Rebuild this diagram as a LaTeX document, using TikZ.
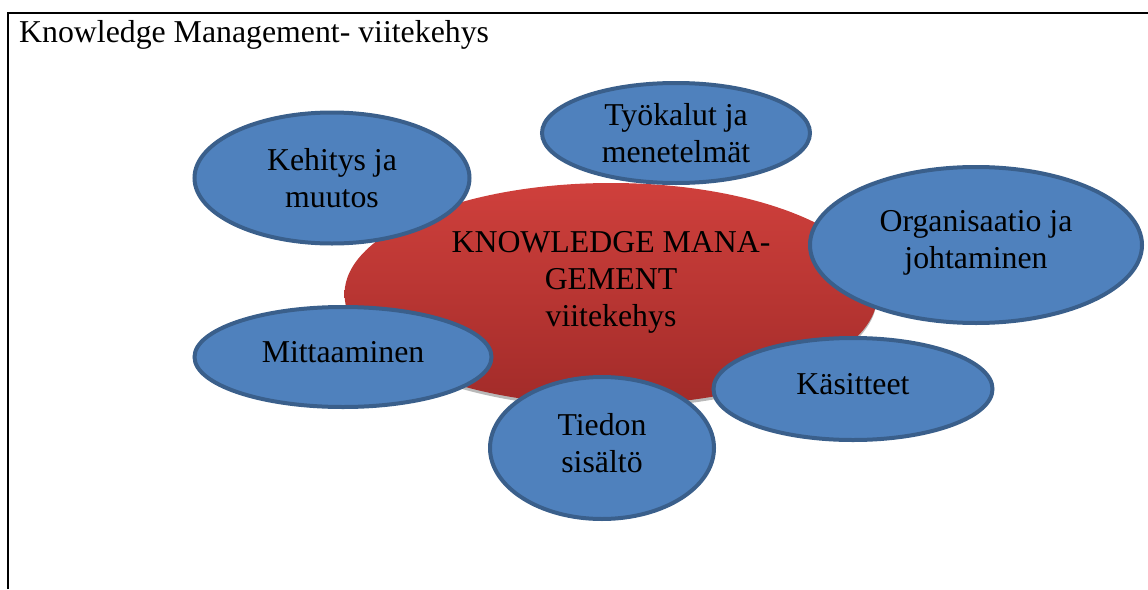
\documentclass[tikz,border=0pt]{standalone}
\usepackage{fontspec}
\setmainfont{Liberation Serif}
\usetikzlibrary{shapes.geometric}

\definecolor{kmblue}{HTML}{4F81BD}
\definecolor{kmedge}{HTML}{3A5F8B}
\definecolor{kmredtop}{HTML}{CF403C}
\definecolor{kmredbot}{HTML}{A22B29}

\newcommand{\kmfont}{\fontsize{31.8}{37}\selectfont}

\tikzset{
  topic/.style={ellipse, draw=kmedge, line width=4pt, fill=kmblue,
    align=center, inner sep=0pt, font=\kmfont},
  lifted/.style={text depth=11pt},
  core/.style={ellipse, top color=kmredtop, bottom color=kmredbot,
    inner sep=0pt},
}

\begin{document}
\begin{tikzpicture}[x=1pt,y=-1pt]
        \useasboundingbox (0,0) rectangle (1148,589);

        % Frame and heading
        \draw[line width=1.5pt] (8,589) -- (8,13) -- (1148,13);
        \node[anchor=base west, font=\kmfont, inner sep=0pt] (title) at (19,42) {Knowledge Management- viitekehys};

        % Central ellipse with its shadow
        \fill[gray!55] (611,297) ellipse (266 and 111);
        \node[core, minimum width=533, minimum height=222] (core) at (611,294) {};
        \node[font=\kmfont, align=center, inner sep=0pt] (coretext) at ([yshift=12]core.center)
          {KNOWLEDGE MANA-\\GEMENT\\viitekehys};

        % Surrounding topics
        \node[topic, minimum width=268, minimum height=100] (tools) at (676,133) {Työkalut ja\\menetelmät};
        \node[topic, minimum width=275, minimum height=131] (change) at (332,178) {Kehitys ja\\muutos};
        \node[topic, lifted, minimum width=332, minimum height=156] (org) at (976,245) {Organisaatio ja\\johtaminen};
        \node[topic, lifted, minimum width=297, minimum height=100] (measure) at (343,357) {Mittaaminen};
        \node[topic, lifted, minimum width=279, minimum height=102] (concepts) at (853,389) {Käsitteet};
        \node[topic, lifted, minimum width=224, minimum height=142] (content) at (602,448) {Tiedon\\sisältö};

      \end{tikzpicture}
\end{document}
